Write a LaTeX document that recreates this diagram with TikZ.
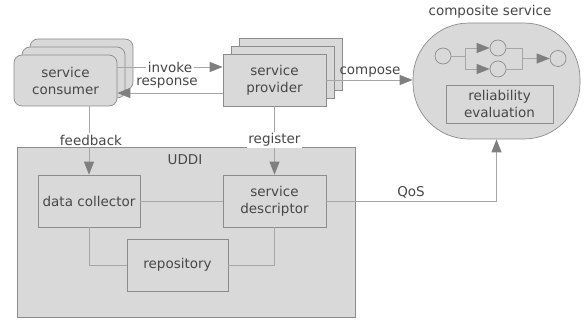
\documentclass[tikz,border=0pt]{standalone}
\usepackage{fontspec}
\setmainfont{DejaVu Sans}
\usetikzlibrary{arrows.meta}
\definecolor{boxfill}{HTML}{D9D9D9}
\definecolor{boxline}{HTML}{8C8C8C}
\definecolor{conline}{HTML}{A6A6A6}
\definecolor{tipcol}{HTML}{7F7F7F}
\definecolor{txt}{HTML}{474747}
\begin{document}
\begin{tikzpicture}[x=1pt,y=-1pt,
  font=\fontsize{13.5}{17}\selectfont, text=txt,
  box/.style={draw=boxline, fill=boxfill, line width=0.7pt, align=center, inner sep=0pt},
  rbox/.style={box, rounded corners=8pt},
  dot/.style={draw=boxline, fill=boxfill, line width=0.7pt, circle, minimum size=16pt, inner sep=0pt},
  con/.style={draw=conline, line width=0.9pt},
  arr/.style={con, -{Triangle[length=13pt,width=10pt,color=tipcol,fill=tipcol]}},
  lbl/.style={fill=white, inner sep=1.5pt}]
\useasboundingbox (0,0) rectangle (585,320);

% UDDI container
\node[box, minimum width=338pt, minimum height=170pt] (uddi) at (186,232) {};
\node (uddil) at (185,160) {UDDI};

% service consumer (stacked)
\node[rbox, minimum width=103pt, minimum height=51pt] (cons3) at (81.5,64.5) {};
\node[rbox, minimum width=103pt, minimum height=51pt] (cons2) at (73.5,72.5) {};
\node[rbox, minimum width=103pt, minimum height=51pt] (cons) at (65.5,80.5) {service\\consumer};

% service provider (stacked)
\node[box, minimum width=103pt, minimum height=52pt] (prov3) at (290.5,64) {};
\node[box, minimum width=103pt, minimum height=52pt] (prov2) at (282.5,72) {};
\node[box, minimum width=103pt, minimum height=52pt] (prov) at (274.5,80) {service\\provider};

% composite service
\node[box, rounded corners=56pt, minimum width=167pt, minimum height=116pt] (comp) at (496.5,81) {};
\node (compl) at (490,12) {composite service};
\node[box, minimum width=107pt, minimum height=38pt] (rel) at (499.5,104) {reliability\\evaluation};
\node[dot] (c1) at (443,56) {};
\node[dot] (c2) at (498,48) {};
\node[dot] (c3) at (498,69) {};
\node[dot] (c4) at (558,58.5) {};
\coordinate (br) at (465,58.5);
\coordinate (mg) at (522,58.5);
\draw[con] (c1.east) -- (c1.east -| br);
\draw[con] (br |- c2) -- (br |- c3);
\draw[arr] (br |- c2) -- (c2.west);
\draw[arr] (br |- c3) -- (c3.west);
\draw[con] (c2.east) -- (mg |- c2) -- (mg |- c3) -- (c3.east);
\draw[arr] (mg) -- (c4.west);

% UDDI inner boxes
\node[box, minimum width=102pt, minimum height=52pt] (dc) at (89,201) {data collector};
\node[box, minimum width=103pt, minimum height=52pt] (sd) at (274.5,201) {service\\descriptor};
\node[box, minimum width=101pt, minimum height=52pt] (repo) at (177.5,265) {repository};

\draw[con] (dc.east) -- (sd.west);
\draw[con] (dc.south) -- (dc.south |- repo.west) -- (repo.west);
\draw[con] (repo.east) -| (sd.south);

% invoke / response
\coordinate (inv) at ([yshift=13.5pt]cons.east);
\draw[arr] (inv) -- (inv -| prov.west) node[midway, lbl] (invl) {invoke};
\coordinate (resp) at ([yshift=-13pt]prov.west);
\draw[arr] (resp) -- (resp -| cons.east);
\node (respl) at (167,83) {response};

% compose
\draw[arr] (prov.east) -- (prov.east -| comp.west);
\node (compo) at (370,72) {compose};

% feedback / register
\coordinate (fb) at (dc.north |- cons.south);
\draw[arr] (fb) -- (dc.north);
\node[lbl] (fbl) at (91,140) {feedback};
\draw[arr] (prov.south) -- (sd.north);
\node[lbl] (regl) at (274.5,140) {register};

% QoS
\draw[arr] (sd.east) -| (comp.south);
\node (qosl) at (411,192) {QoS};
\end{tikzpicture}
\end{document}
